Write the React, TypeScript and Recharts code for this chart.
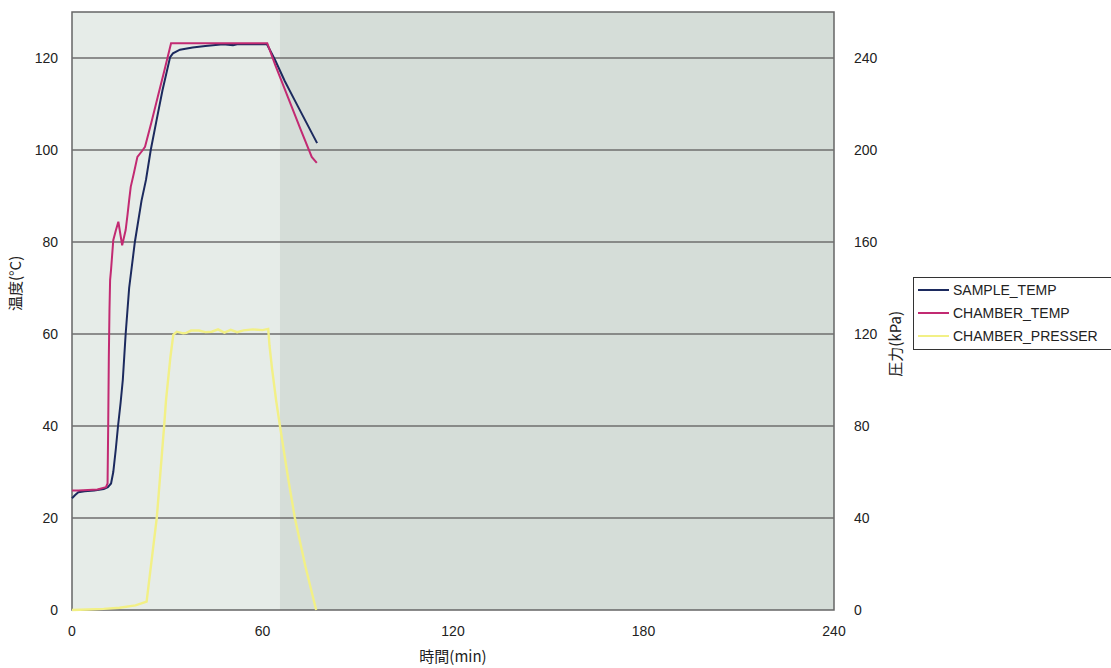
import {
  ComposedChart,
  Line,
  XAxis,
  YAxis,
  ReferenceArea,
  ReferenceLine,
} from "recharts";

// time (min) / value pairs
const sampleTime = [0, 1, 2, 4, 7, 10, 11.3, 12.3, 13, 13.8, 14.5, 15.3, 16, 16.9, 18, 19.8, 21.9, 23.3, 24.8, 26.5, 28.5, 30.9, 31.8, 34, 38, 42, 47.6, 50.7, 52, 61.4, 64, 67, 70, 77.2];
const sampleTemp = [24.3, 25, 25.6, 25.8, 26, 26.3, 26.7, 27.5, 30, 35, 40, 45, 50, 60, 70, 80, 89, 93.5, 100, 106, 113, 120.2, 121, 121.8, 122.3, 122.6, 123, 122.8, 123, 123, 119.5, 115, 111, 101.5];

const chamberTime = [0, 2, 5, 8, 10.7, 11.2, 11.4, 11.6, 11.8, 12, 12.3, 13, 13.8, 14.6, 15.8, 16.9, 17.5, 18, 18.5, 19.5, 20.6, 22.3, 23, 25, 27, 29, 31.2, 61.5, 64, 68, 72, 75.5, 77.1];
const chamberTemp = [26, 26, 26.1, 26.2, 26.7, 27.5, 40, 55, 65, 71.7, 74, 80.4, 82.5, 84.4, 79.3, 82.6, 86, 89.1, 92, 95, 98.5, 100, 100.7, 106, 111.5, 117, 123.2, 123.2, 118.5, 111.5, 104.5, 98.5, 97.2];

const presserTime = [0, 5, 10, 15, 20, 23.5, 26.7, 29, 29.6, 31, 31.9, 33, 35, 36, 37.5, 40, 42, 44, 46, 48, 50, 52, 54, 57, 60, 61.8, 62.2, 63, 64.3, 65.5, 68.1, 70.2, 73.5, 76.9];
const presserKpa = [0, 0.2, 0.5, 1, 2, 3.6, 40, 79.6, 91, 110, 119.6, 121, 120.3, 120.5, 121.5, 121.5, 120.8, 121, 122, 120.6, 121.8, 120.8, 121.6, 122, 121.7, 122.2, 115, 105, 91, 80, 57, 40, 19, 0];

const xTicks = [0, 60, 120, 180, 240];
const tempTicks = [0, 20, 40, 60, 80, 100, 120];
const kpaTicks = [0, 40, 80, 120, 160, 200, 240];

const seriesNames = ["SAMPLE_TEMP", "CHAMBER_TEMP", "CHAMBER_PRESSER"];
const seriesColors = ["#1c2a5e", "#c22a72", "#f2f086"];

const sampleData = sampleTime.map((t, i) => ({ t, v: sampleTemp[i] }));
const chamberData = chamberTime.map((t, i) => ({ t, v: chamberTemp[i] }));
const presserData = presserTime.map((t, i) => ({ t, v: presserKpa[i] }));

const tickStyle = { fill: "#222", fontSize: 14, fontFamily: "Liberation Sans, Arial, sans-serif" };
const jpFont = "Noto Sans CJK JP, sans-serif";

export default function App() {
  return (
    <div style={{ position: "absolute", left: 0, top: 0, width: 1111, height: 668, background: "#fff" }}>
      <ComposedChart
        width={1111}
        height={668}
        margin={{ top: 12, right: 197, left: 0, bottom: 18 }}
      >
        {/* plot background: lighter left band, darker right */}
        <ReferenceArea yAxisId="left" x1={0} x2={65.5} y1={0} y2={130} fill="#e6ece8" fillOpacity={1} stroke="none" ifOverflow="visible" />
        <ReferenceArea yAxisId="left" x1={65.5} x2={240} y1={0} y2={130} fill="#d5ddd8" fillOpacity={1} stroke="none" ifOverflow="visible" />
        {tempTicks.slice(1).map((v) => (
          <ReferenceLine key={v} yAxisId="left" y={v} stroke="#6e6e6e" strokeWidth={1.3} />
        ))}
        <ReferenceArea yAxisId="left" x1={0} x2={240} y1={0} y2={130} fill="none" stroke="#666" strokeWidth={1.5} ifOverflow="visible" />
        <XAxis
          dataKey="t"
          type="number"
          domain={[0, 240]}
          ticks={xTicks}
          allowDuplicatedCategory={false}
          height={40}
          axisLine={false}
          tickLine={false}
          tick={tickStyle}
          tickMargin={10}
          label={{ value: "時間(min)", position: "insideBottom", offset: -12, fill: "#222", fontSize: 15, fontFamily: jpFont }}
        />
        <YAxis
          yAxisId="left"
          domain={[0, 130]}
          ticks={tempTicks}
          width={72}
          axisLine={false}
          tickLine={false}
          tick={tickStyle}
          tickMargin={8}
          label={{ value: "温度(°C)", angle: -90, position: "insideLeft", offset: 16, fill: "#222", fontSize: 15, fontFamily: jpFont }}
        />
        <YAxis
          yAxisId="right"
          orientation="right"
          domain={[0, 260]}
          ticks={kpaTicks}
          width={80}
          axisLine={false}
          tickLine={false}
          tick={tickStyle}
          tickMargin={14}
          label={{ value: "圧力(kPa)", angle: -90, position: "insideRight", offset: 18, fill: "#222", fontSize: 15, fontFamily: jpFont }}
        />
        <Line
          yAxisId="right"
          data={presserData}
          dataKey="v"
          name={seriesNames[2]}
          type="linear"
          stroke={seriesColors[2]}
          strokeWidth={2.4}
          dot={false}
          isAnimationActive={false}
        />
        <Line
          yAxisId="left"
          data={sampleData}
          dataKey="v"
          name={seriesNames[0]}
          type="linear"
          stroke={seriesColors[0]}
          strokeWidth={2}
          dot={false}
          isAnimationActive={false}
        />
        <Line
          yAxisId="left"
          data={chamberData}
          dataKey="v"
          name={seriesNames[1]}
          type="linear"
          stroke={seriesColors[1]}
          strokeWidth={2}
          dot={false}
          isAnimationActive={false}
        />
      </ComposedChart>
      {/* legend box */}
      <div
        style={{
          position: "absolute",
          left: 913,
          top: 277,
          width: 205,
          boxSizing: "border-box",
          border: "1px solid #333",
          background: "#fff",
          padding: "0 0 2px 4px",
          fontFamily: "Liberation Sans, Arial, sans-serif",
          fontSize: 14,
          color: "#222",
        }}
      >
        {seriesNames.map((n, i) => (
          <div key={n} style={{ display: "flex", alignItems: "center", height: 23 }}>
            <span style={{ width: 31, height: 2, background: seriesColors[i], marginRight: 4 }} />
            {n}
          </div>
        ))}
      </div>
    </div>
  );
}
